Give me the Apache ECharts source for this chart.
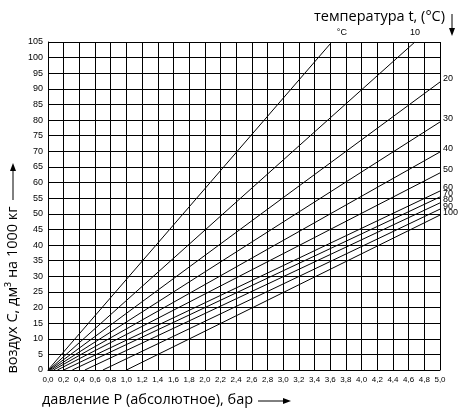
<!DOCTYPE html>
<html>
<head>
<meta charset="utf-8">
<script src="https://cdn.jsdelivr.net/npm/echarts@6/dist/echarts.min.js"></script>
<style>html,body{margin:0;padding:0;background:#fff}#c{width:473px;height:414px}</style>
</head>
<body>
<div id="c"></div>
<script>
// temperature line labels
const temps = ['°C', '10', '20', '30', '40', '50', '60', '70', '80', '90', '100'];
// pressure where each line starts (C = 0), bar
const startP = [0.0, 0.01, 0.02, 0.04, 0.07, 0.12, 0.2, 0.31, 0.47, 0.7, 1.0];
// pressure at line end, bar
const endP = [3.62, 4.68, 5.0, 5.0, 5.0, 5.0, 5.0, 5.0, 5.0, 5.0, 5.0];
// air content at line end, dm3 per 1000 kg
const endC = [105, 105, 92.2, 79.4, 69.8, 63.1, 57.3, 55.4, 53.5, 51.5, 49.6];

const xTitle = 'давление P (абсолютное), бар';
const yTitle = 'воздух C, дм³ на 1000 кг';
const tTitle = 'температура t, (°C)';

const chart = echarts.init(document.getElementById('c'));
const series = temps.map((t, i) => {
  const atTop = endC[i] >= 105;
  return {
    type: 'line',
    symbol: 'none',
    silent: true,
    animation: false,
    lineStyle: { color: '#000', width: 1 },
    endLabel: {
      show: true,
      formatter: t,
      fontSize: 9,
      fontFamily: 'Liberation Sans, Arial, sans-serif',
      color: '#000',
      distance: 3,
      offset: atTop ? (i === 0 ? [2, -9] : [-8, -9]) : [0, -3]
    },
    data: [
      [startP[i], 0],
      [endP[i], endC[i]]
    ]
  };
});

chart.setOption({
  animation: false,
  grid: { left: 48, right: 33, top: 42, bottom: 44, containLabel: false },
  xAxis: {
    type: 'value', min: 0, max: 5, interval: 0.2,
    axisLine: { show: true, lineStyle: { color: '#000', width: 1 } },
    axisTick: { show: false },
    splitLine: { show: true, lineStyle: { color: '#000', width: 1 } },
    axisLabel: {
      margin: 6, fontSize: 8, color: '#000',
      fontFamily: 'Liberation Sans, Arial, sans-serif',
      formatter: v => (Math.round(v * 10) / 10).toFixed(1).replace('.', ','),
      showMaxLabel: true, showMinLabel: true
    }
  },
  yAxis: {
    type: 'value', min: 0, max: 105, interval: 5,
    axisLine: { show: true, lineStyle: { color: '#000', width: 1 } },
    axisTick: { show: false },
    splitLine: { show: true, lineStyle: { color: '#000', width: 1 } },
    axisLabel: {
      margin: 5, fontSize: 9, color: '#000',
      fontFamily: 'Liberation Sans, Arial, sans-serif'
    }
  },
  graphic: [
    { type: 'text', left: 42, top: 392, style: { text: xTitle, font: '14.5px "Open Sans", sans-serif', fill: '#000' } },
    { type: 'line', shape: { x1: 258, y1: 401, x2: 287, y2: 401 }, style: { stroke: '#000', lineWidth: 1 } },
    { type: 'polygon', shape: { points: [[291, 401], [283, 398], [283, 404]] }, style: { fill: '#000' } },
    { type: 'text', x: 13, y: 290, rotation: Math.PI / 2,
      style: { text: yTitle, font: '14.5px "Open Sans", sans-serif', fill: '#000', align: 'center', verticalAlign: 'middle' } },
    { type: 'line', shape: { x1: 13, y1: 200, x2: 13, y2: 168 }, style: { stroke: '#000', lineWidth: 1 } },
    { type: 'polygon', shape: { points: [[13, 163], [10, 171], [16, 171]] }, style: { fill: '#000' } },
    { type: 'text', right: 28, top: 9, style: { text: tTitle, font: '14.5px "Open Sans", sans-serif', fill: '#000' } },
    { type: 'line', shape: { x1: 452, y1: 14, x2: 452, y2: 31 }, style: { stroke: '#000', lineWidth: 1 } },
    { type: 'polygon', shape: { points: [[452, 36], [449, 28], [455, 28]] }, style: { fill: '#000' } }
  ],
  series: series
});
</script>
</body>
</html>
